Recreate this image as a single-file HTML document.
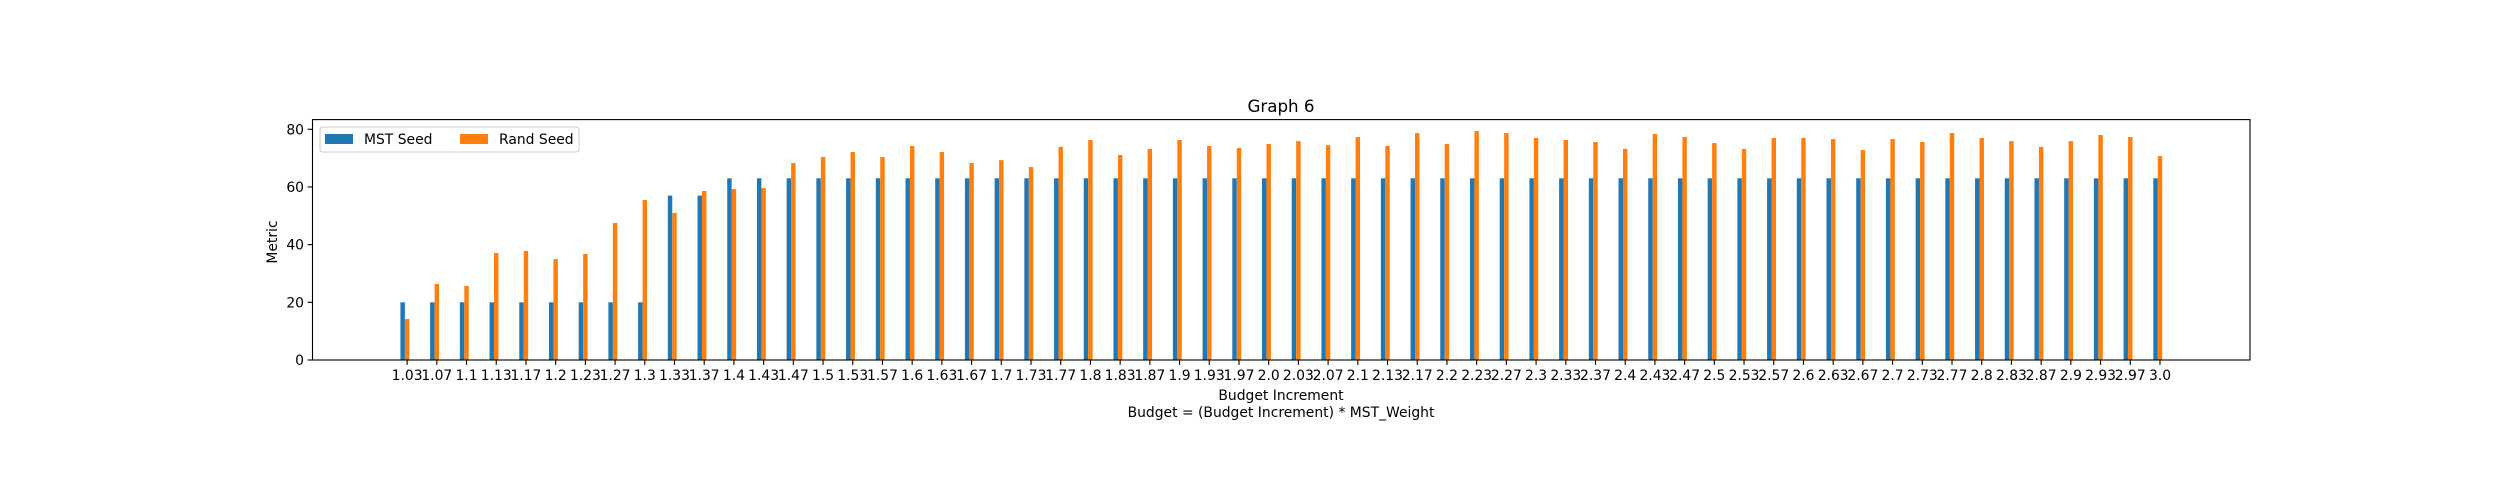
<!DOCTYPE html>
<html><head><meta charset="utf-8"><style>
html,body{margin:0;padding:0;background:#fff;}
svg{display:block;font-family:"DejaVu Sans","Liberation Sans",sans-serif;}
</style></head><body>
<svg id="chart" width="2500" height="480" viewBox="0 0 2500 480" xmlns="http://www.w3.org/2000/svg">
<rect width="2500" height="480" fill="#fff"/>
<text x="1281" y="112" font-size="16.7" text-anchor="middle">Graph 6</text>
<g id="plot"></g>
<text x="1281" y="400" font-size="13.9" text-anchor="middle">Budget Increment</text>
<text x="1281" y="417" font-size="13.9" text-anchor="middle">Budget = (Budget Increment) * MST_Weight</text>
<text transform="translate(277,242) rotate(-90)" font-size="13.9" text-anchor="middle">Metric</text>
<rect x="312.5" y="119.6" width="1937.5" height="240.4" fill="none" stroke="#000" stroke-width="1.1"/>
<g>
<rect x="320" y="127" width="259" height="25" rx="3" fill="#fff" fill-opacity="0.8" stroke="#ccc"/>
<rect x="325" y="134" width="28" height="10" fill="#1f77b4"/>
<text x="364" y="144" font-size="13.9">MST Seed</text>
<rect x="460" y="134" width="28" height="10" fill="#ff7f0e"/>
<text x="499" y="144" font-size="13.9">Rand Seed</text>
</g>
</svg>
<script>
const categories = ["1.03","1.07","1.1","1.13","1.17","1.2","1.23","1.27","1.3","1.33","1.37","1.4","1.43","1.47","1.5","1.53","1.57","1.6","1.63","1.67","1.7","1.73","1.77","1.8","1.83","1.87","1.9","1.93","1.97","2.0","2.03","2.07","2.1","2.13","2.17","2.2","2.23","2.27","2.3","2.33","2.37","2.4","2.43","2.47","2.5","2.53","2.57","2.6","2.63","2.67","2.7","2.73","2.77","2.8","2.83","2.87","2.9","2.93","2.97","3.0"];
const mstSeed = [20,20,20,20,20,20,20,20,20,57,57,63,63,63,63,63,63,63,63,63,63,63,63,63,63,63,63,63,63,63,63,63,63,63,63,63,63,63,63,63,63,63,63,63,63,63,63,63,63,63,63,63,63,63,63,63,63,63,63,63];
const randSeed = [14.2,26.4,25.7,37.1,37.8,35.0,36.8,47.5,55.5,51.0,58.6,59.3,59.6,68.3,70.4,72.1,70.4,74.2,72.1,68.3,69.3,66.9,73.9,76.3,71.1,73.2,76.3,74.2,73.5,74.9,75.9,74.5,77.3,74.2,78.7,74.9,79.4,78.7,77.0,76.3,75.6,73.2,78.4,77.3,75.2,73.2,77.0,77.0,76.6,72.8,76.6,75.6,78.7,77.0,75.9,73.9,75.9,78.0,77.3,70.7];
const yTicks = [0,20,40,60,80];

const NS="http://www.w3.org/2000/svg";
const plot=document.getElementById('plot');
const X0=407.1, DX=29.71, BW=4.45;
const xPos=i=>X0+i*DX;
const Y0=360, KY=2.884;
const yPos=v=>Y0-v*KY;
function mk(tag,attrs){const e=document.createElementNS(NS,tag);for(const k in attrs)e.setAttribute(k,attrs[k]);plot.appendChild(e);return e;}
categories.forEach((c,i)=>{
  const cx=xPos(i);
  const b=mk('rect',{x:cx-1.5*BW,y:yPos(mstSeed[i]),width:BW,height:Y0-yPos(mstSeed[i]),fill:'#1f77b4'});
  
  
  const o=mk('rect',{x:cx-0.5*BW,y:yPos(randSeed[i]),width:BW,height:Y0-yPos(randSeed[i]),fill:'#ff7f0e'});
  
  
  const t=mk('line',{x1:cx,x2:cx,y1:Y0,y2:Y0+4.9,stroke:'#000','stroke-width':1.1});
  
  
  const l=mk('text',{x:cx,y:Y0+20,'font-size':13.9,'text-anchor':'middle'});
  l.textContent=c;
  
  
});
yTicks.forEach(v=>{
  const y=yPos(v);
  const t=mk('line',{x1:312.5-4.9,x2:312.5,y1:y,y2:y,stroke:'#000','stroke-width':1.1});
  
  
  const l=mk('text',{x:304,y:y+5,'font-size':13.9,'text-anchor':'end'});
  l.textContent=v;
  
  
});
</script>
</body></html>
